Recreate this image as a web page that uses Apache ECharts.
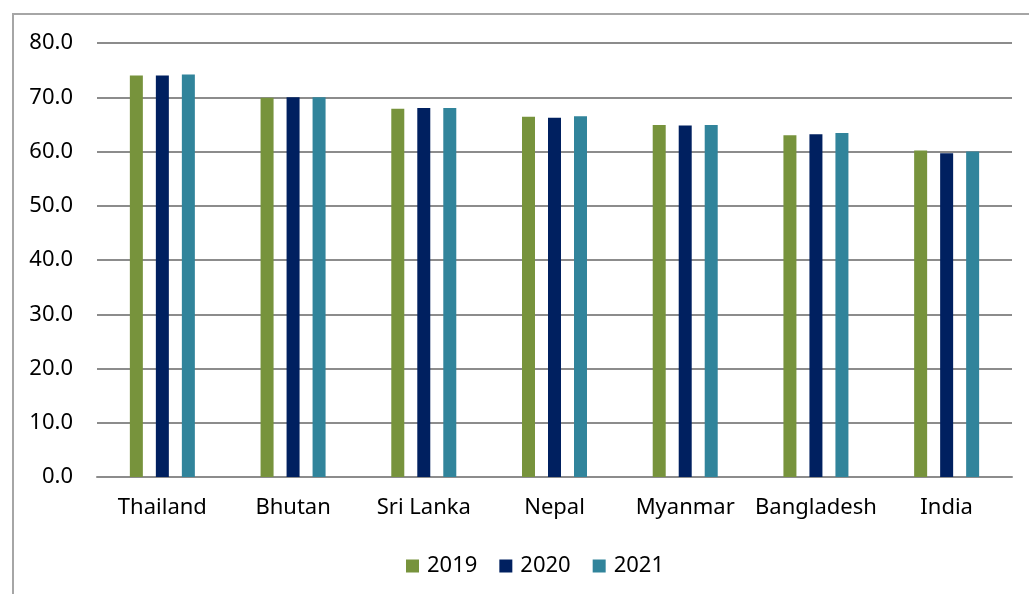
<!DOCTYPE html>
<html>
<head>
<meta charset="utf-8">
<script src="https://cdn.jsdelivr.net/npm/echarts@6/dist/echarts.min.js"></script>
<style>
  html, body { margin: 0; padding: 0; background: #fff; overflow: hidden; }
  #frame { position: absolute; left: 12px; top: 13px; width: 1100px; height: 700px;
           border-left: 2px solid #a6a6a6; border-top: 2px solid #a6a6a6; }
  #chart { position: absolute; left: 0; top: 0; width: 1029px; height: 594px; }
</style>
</head>
<body>
<div id="frame"></div>
<div id="chart"></div>
<script>
const countries = ['Thailand', 'Bhutan', 'Sri Lanka', 'Nepal', 'Myanmar', 'Bangladesh', 'India'];
const years = ['2019', '2020', '2021'];
const values2019 = [74.0, 69.9, 67.9, 66.4, 64.9, 63.0, 60.2];
const values2020 = [74.0, 70.0, 68.0, 66.2, 64.8, 63.2, 59.7];
const values2021 = [74.2, 70.0, 68.0, 66.5, 64.9, 63.4, 60.0];
const colors = ['#77933c', '#002060', '#31849b'];

const chart = echarts.init(document.getElementById('chart'));
const font = '"Noto Sans", sans-serif';
const fontSize = 22;

const makeSeries = (name, data, color) => ({
  name: name,
  type: 'bar',
  barWidth: 13,
  barGap: '100%',
  itemStyle: { color: color },
  data: data
});

const option = {
  animation: false,
  color: colors,
  legend: {
    data: years,
    bottom: 12,
    left: 401,
    icon: 'rect',
    itemWidth: 13,
    itemHeight: 13,
    itemGap: 22,
    textStyle: { color: '#000', fontSize: fontSize, fontFamily: font, padding: [0, 0, 0, 3] }
  },
  grid: {
    left: 97,
    right: 17,
    top: 43,
    bottom: 117
  },
  xAxis: {
    type: 'category',
    data: countries,
    axisLine: { lineStyle: { color: '#8c8c8c', width: 2 } },
    axisTick: { show: false },
    axisLabel: { color: '#000', fontSize: fontSize, fontFamily: font, margin: 20, interval: 0 }
  },
  yAxis: {
    type: 'value',
    min: 0,
    max: 80,
    interval: 10,
    axisLine: { show: false },
    axisTick: { show: false },
    splitLine: { lineStyle: { color: '#8c8c8c', width: 2 } },
    axisLabel: {
      color: '#000',
      fontSize: fontSize,
      fontFamily: font,
      margin: 24,
      formatter: v => v.toFixed(1)
    }
  },
  series: [
    makeSeries(years[0], values2019, colors[0]),
    makeSeries(years[1], values2020, colors[1]),
    makeSeries(years[2], values2021, colors[2])
  ]
};

chart.setOption(option);
</script>
</body>
</html>
